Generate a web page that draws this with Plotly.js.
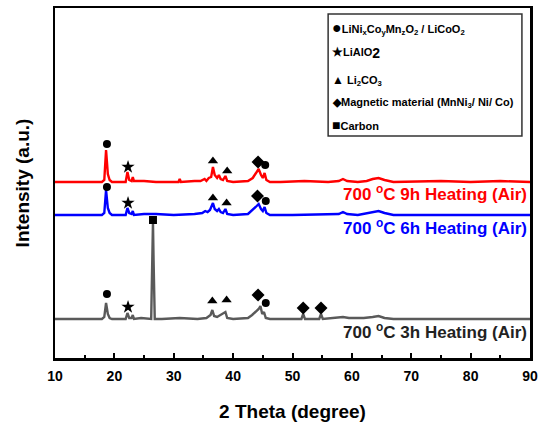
<!DOCTYPE html>
<html><head><meta charset="utf-8">
<script src="https://cdn.plot.ly/plotly-3.0.1.min.js"></script>
<style>html,body{margin:0;padding:0;background:#fff}</style>
</head><body><div id="chart" style="width:546px;height:426px"></div>
<script>
// ---- data (2θ in degrees, intensity in a.u. above each baseline) ----
const redTheta = [10,17.9,18.3,18.6,18.9,19.2,19.6,21.9,22.2,22.5,22.9,23.1,23.3,25,27,30.8,31,31.2,33.5,34.5,35.2,35.5,35.9,36.3,36.6,36.9,37.3,37.6,37.9,38.3,38.7,39.0,40,42.5,43.3,43.8,44.3,44.7,45.0,45.3,45.6,46.2,48,52,56,57.8,58.5,59.2,61,62.5,63.5,64.5,65.5,67,75,80,85,90];
const redInt   = [0,0,2,32,8,2,0,0,10,2,1,5,1,1,0,0,3,0,1,1,3,1,4,5,15,7,4,7,3,2,6,1,0,1,4,9,13,7,4,9,2,0,0,1,0,1,3,1,0,1,3,4,2,0,1,0,1,0];
const blueTheta = [10,17.9,18.3,18.6,18.9,19.2,19.6,21.9,22.2,22.5,22.9,23.1,23.3,25,27,30,33.5,34.8,35.3,35.7,36.1,36.6,36.9,37.3,37.6,37.9,38.3,38.7,39.0,40,42.5,43.3,43.8,44.3,44.7,45.0,45.3,45.6,46.2,50,57.8,58.5,59.2,61,63.5,64.5,65.5,67,90];
const blueInt   = [0,0,2,25,7,2,0,0,7,2,1,4,0,1,1,0,1,2,4,3,5,12,6,4,6,3,2,6,1,0,1,5,8,11,6,4,8,2,0,0,1,3,1,0,3,4,2,0,0];
const grayTheta = [10,17.9,18.3,18.6,18.9,19.2,19.6,21.9,22.2,22.5,22.9,23.1,23.3,24.5,26.2,26.4,26.5,26.6,26.8,28,31,34,35.5,36.2,36.5,36.8,37.3,38.7,39.0,40,42.5,43.2,43.8,44.3,44.6,44.9,45.2,45.5,46.2,51.5,51.8,52.1,54.5,54.8,55.1,57.5,58.5,59.5,62,63.5,64.5,65.5,67,90];
const grayInt   = [0,0,2,16,5,1,0,0,6,1,1,4,0,1,0,60,97,60,0,0,1,0,1,4,9,3,2,7,1,0,1,4,7,10,13,5,7,1,0,0,5,0,0,5,0,1,2,1,1,2,3,1,0,0];

const offsets = {red: 176, blue: 143, gray: 39};
const seriesNames = ["700 °C 9h Heating (Air)", "700 °C 6h Heating (Air)", "700 °C 3h Heating (Air)"];

// phase markers: [2θ, height above baseline]
const redMarks = {circle:[[18.75,38],[45.4,17]], star:[[22.3,15]], 'triangle-up':[[36.6,21],[39.0,11]], diamond:[[44.2,20]]};
const blueMarks = {circle:[[18.75,28],[45.5,14]], star:[[22.3,12]], 'triangle-up':[[36.6,17],[38.9,12]], diamond:[[44.1,19]]};
const grayMarks = {circle:[[18.75,25],[45.5,16]], star:[[22.3,12]], square:[[26.5,99]], 'triangle-up':[[36.5,18],[38.9,19]], diamond:[[44.2,24],[51.8,11],[54.8,11]]};

const legendSymbols = ["●", "★", "▲", "◆", "■"];
const legendLines = [
  "LiNi<sub>x</sub>Co<sub>y</sub>Mn<sub>z</sub>O<sub>2</sub> / LiCoO<sub>2</sub>",
  "LiAlO<sub><span style='font-size:14px'>2</span></sub>",
  " Li<sub>2</sub>CO<sub>3</sub>",
  "Magnetic material (MnNi<sub>3</sub>/ Ni/ Co)",
  "Carbon"
];

// ---- build ----
const colors = {red:'#ff0000', blue:'#0000ff', gray:'#5a5a5a'};
const traces = [];
function addLine(th, it, off, col){
  traces.push({x: th, y: it.map(v => v + off), type:'scatter', mode:'lines',
    line:{color: col, width: 2.4}, hoverinfo:'skip', showlegend:false});
}
addLine(redTheta, redInt, offsets.red, colors.red);
addLine(blueTheta, blueInt, offsets.blue, colors.blue);
addLine(grayTheta, grayInt, offsets.gray, colors.gray);

const sizes = {circle:8, star:10, 'triangle-up':9, diamond:10, square:8};
function addMarks(m, off){
  for (const sym in m){
    traces.push({x: m[sym].map(p=>p[0]), y: m[sym].map(p=>p[1]+off), type:'scatter', mode:'markers',
      marker:{symbol: sym, size: sizes[sym], color:'#000'}, hoverinfo:'skip', showlegend:false});
  }
}
addMarks(redMarks, offsets.red);
addMarks(blueMarks, offsets.blue);
addMarks(grayMarks, offsets.gray);

const font = 'Arial, "Liberation Sans", sans-serif';
const annotations = [];
const labelY = [offsets.red - 11, offsets.blue - 12, offsets.gray - 12];
const labelCol = [colors.red, colors.blue, '#222'];
seriesNames.forEach((s, i) => {
  annotations.push({x: 89.85, y: labelY[i], xref:'x', yref:'y', xanchor:'right', yanchor:'middle',
    text: s.replace('°', '<sup>o</sup>'), showarrow:false,
    font:{family: font, size:17, weight:'bold', color: labelCol[i]}});
});
const legY = [0.943, 0.871, 0.794, 0.729, 0.666];
const symSize = [16, 12, 12, 11, 14];
legendLines.forEach((t, i) => {
  annotations.push({x: 0.578, y: legY[i], xref:'paper', yref:'paper', xanchor:'left', yanchor:'middle',
    text: "<span style='font-size:" + symSize[i] + "px'>" + legendSymbols[i] + "</span>" + t, showarrow:false,
    font:{family: font, size:11, weight:'bold', color:'#000'}});
});

const layout = {
  width: 546, height: 426,
  margin: {l:55, r:16, t:8, b:68},
  paper_bgcolor:'#fff', plot_bgcolor:'#fff',
  font: {family: font, color:'#000'},
  xaxis: {range:[10,90], dtick:10, tick0:10, ticks:'inside', ticklen:5, tickwidth:2, tickcolor:'#000',
    minor:{dtick:5, ticks:'inside', ticklen:3, tickwidth:2, tickcolor:'#000'},
    showline:true, linewidth:2.5, linecolor:'#000', mirror:true, showgrid:false, zeroline:false,
    ticklabelstandoff:4,
    tickfont:{family: font, size:14, weight:'bold', color:'#000'},
    title:{text:'2 Theta (degree)', font:{family: font, size:19, weight:'bold', color:'#000'}, standoff:22}},
  yaxis: {range:[0,350], showticklabels:false, ticks:'', showline:true, linewidth:2.5, linecolor:'#000',
    mirror:true, showgrid:false, zeroline:false,
    title:{text:'Intensity (a.u.)', font:{family: font, size:19, weight:'bold', color:'#000'}, standoff:18}},
  shapes: [{type:'rect', xref:'paper', yref:'paper', x0:0.575, x1:0.983, y0:0.634, y1:0.983,
    line:{color:'#333', width:1.5}, fillcolor:'rgba(0,0,0,0)'}],
  annotations: annotations
};
Plotly.newPlot('chart', traces, layout, {displayModeBar:false, staticPlot:true});
</script></body></html>
